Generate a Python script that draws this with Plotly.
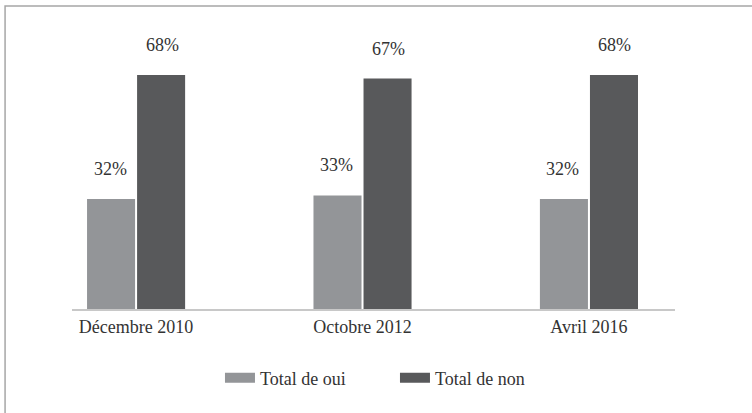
import plotly.graph_objects as go

# Survey results
periods = ["Décembre 2010", "Octobre 2012", "Avril 2016"]
oui = [32, 33, 32]
non = [68, 67, 68]
series_names = ["Total de oui", "Total de non"]

col_oui = "#939598"
col_non = "#58595b"
serif = "Liberation Serif"

fig = go.Figure()
for vals, name, col in [(oui, series_names[0], col_oui), (non, series_names[1], col_non)]:
    fig.add_trace(go.Bar(x=periods, y=vals, name=name, marker_color=col,
                         marker_line_width=0, showlegend=False))
    # legend entry drawn as a wide swatch, like the original
    fig.add_trace(go.Scatter(x=[None], y=[None], mode="lines", name=name,
                             line=dict(color=col, width=12)))

# percent labels above each bar
for i, p in enumerate(periods):
    for val, shift in [(oui[i], -26), (non[i], 26)]:
        fig.add_annotation(x=p, y=val, text=f"{val}%", showarrow=False,
                           xshift=shift, yshift=30,
                           font=dict(family=serif, size=18, color="#333333"))

# frame around the chart
fig.add_shape(type="rect", xref="paper", yref="paper",
              x0=-0.111, x1=1.2, y0=-0.5, y1=1.1264,
              line=dict(color="#a6a6a6", width=1.5), layer="below")

fig.update_layout(
    width=752, height=413,
    margin=dict(l=72, r=77, t=40, b=104, autoexpand=False),
    paper_bgcolor="white", plot_bgcolor="white",
    barmode="group", bargap=0.558, bargroupgap=0.04,
    font=dict(family=serif, size=18, color="#333333"),
    showlegend=True,
    legend=dict(orientation="h", x=0.2454, xanchor="left", y=-0.2565, yanchor="middle",
                font=dict(family=serif, size=18, color="#333333"),
                entrywidth=130, entrywidthmode="pixels", traceorder="normal"),
    xaxis=dict(range=[-0.283, 2.38], showline=True, linecolor="#c8c8c8", linewidth=2,
               ticks="", showgrid=False, tickfont=dict(family=serif, size=18)),
    yaxis=dict(range=[0, 78.2], visible=False, showgrid=False),
)

# page body has a default margin; drop it so the figure sits at the window corner
fig.write_html("out.html", config={"displayModeBar": False},
               post_script="document.body.style.margin='0';")
